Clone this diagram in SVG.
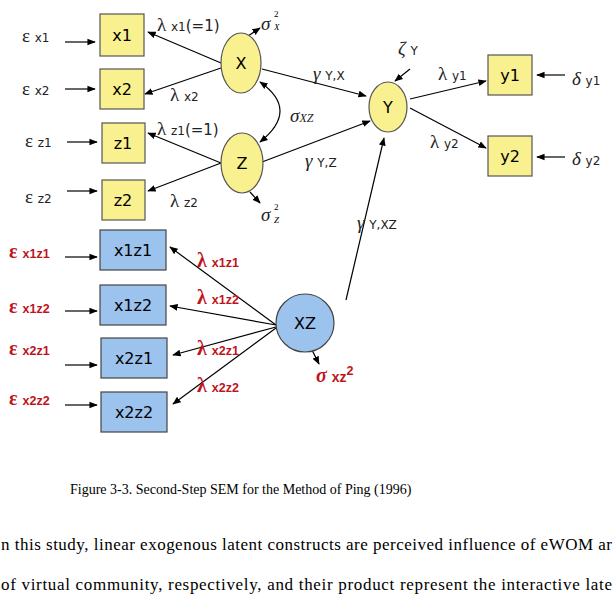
<svg xmlns="http://www.w3.org/2000/svg" width="614" height="595" viewBox="0 0 614 595">
<defs>
<marker id="a" viewBox="0 0 10 10" refX="9" refY="5" markerWidth="7" markerHeight="7" orient="auto-start-reverse"><path d="M0,1 L10,5 L0,9 z" fill="#000"/></marker>
<style>
.l{stroke:#000;stroke-width:1.2;fill:none;marker-end:url(#a)}
.y{fill:#f9f08f;stroke:#555;stroke-width:1.2}
.b{fill:#9cc2ee;stroke:#444;stroke-width:1.2}
.t{font-family:"DejaVu Sans",sans-serif;font-size:16px;fill:#000;text-anchor:middle}
.g{font-family:"Liberation Serif",serif;font-size:19px;fill:#222}
.s{font-family:"DejaVu Sans",sans-serif;font-size:12px}
.r{font-family:"Liberation Serif",serif;font-size:20px;fill:#c0141c;font-weight:bold}
.rs{font-family:"Liberation Sans",sans-serif;font-size:12.5px;font-weight:bold}
.c{font-family:"Liberation Serif",serif;fill:#000}
</style>
</defs>
<rect width="614" height="595" fill="#fff"/>
<g id="connectors">
<line class="l" x1="65" y1="42" x2="95" y2="42"/>
<line class="l" x1="65" y1="89" x2="95" y2="89"/>
<line class="l" x1="67" y1="142" x2="97" y2="142"/>
<line class="l" x1="67" y1="191" x2="97" y2="191"/>
<line class="l" x1="221" y1="63" x2="148" y2="32"/>
<line class="l" x1="221" y1="68" x2="145" y2="94"/>
<line class="l" x1="221" y1="163" x2="148" y2="133"/>
<line class="l" x1="221" y1="163" x2="148" y2="191"/>
<line class="l" x1="248" y1="36" x2="260" y2="28"/>
<line class="l" x1="250" y1="192" x2="260" y2="203"/>
<path class="l" d="M260,82 Q300,110 260,142" style="marker-start:url(#a)"/>
<line class="l" x1="262" y1="69" x2="366" y2="96"/>
<line class="l" x1="262" y1="162" x2="370" y2="121"/>
<line class="l" x1="346" y1="300" x2="384" y2="138"/>
<line class="l" x1="410" y1="69" x2="395" y2="81"/>
<line class="l" x1="410" y1="99" x2="486" y2="81"/>
<line class="l" x1="410" y1="108" x2="486" y2="148"/>
<line class="l" x1="565" y1="75" x2="537" y2="75"/>
<line class="l" x1="565" y1="157" x2="537" y2="157"/>
<line class="l" x1="65" y1="257" x2="97" y2="257"/>
<line class="l" x1="65" y1="311" x2="97" y2="311"/>
<line class="l" x1="65" y1="365" x2="97" y2="365"/>
<line class="l" x1="65" y1="405" x2="97" y2="405"/>
<line class="l" x1="276" y1="325" x2="170" y2="247"/>
<line class="l" x1="276" y1="325" x2="170" y2="306"/>
<line class="l" x1="276" y1="327" x2="173" y2="355"/>
<line class="l" x1="276" y1="328" x2="173" y2="404"/>
<line class="l" x1="312" y1="350" x2="319" y2="364"/>
</g>
<g id="x1"><rect class="y" x="100" y="14" width="44" height="42"/><text class="t" x="122" y="41">x1</text></g>
<g id="x2"><rect class="y" x="100" y="69" width="44" height="40"/><text class="t" x="122" y="95">x2</text></g>
<g id="z1"><rect class="y" x="102" y="123" width="43" height="40"/><text class="t" x="123" y="149">z1</text></g>
<g id="z2"><rect class="y" x="102" y="180" width="43" height="40"/><text class="t" x="123" y="206">z2</text></g>
<g id="X"><ellipse class="y" cx="241" cy="63" rx="20" ry="30"/><text class="t" x="241" y="69">X</text></g>
<g id="Z"><ellipse class="y" cx="242" cy="163" rx="21" ry="30"/><text class="t" x="242" y="169">Z</text></g>
<g id="Y"><ellipse class="y" cx="388" cy="107" rx="19" ry="25"/><text class="t" x="388" y="113">Y</text></g>
<g id="y1"><rect class="y" x="488" y="55" width="44" height="40"/><text class="t" x="510" y="81">y1</text></g>
<g id="y2"><rect class="y" x="488" y="136" width="44" height="40"/><text class="t" x="510" y="162">y2</text></g>
<g id="x1z1"><rect class="b" x="100" y="230" width="66" height="40"/><text class="t" x="133" y="256">x1z1</text></g>
<g id="x1z2"><rect class="b" x="100" y="285" width="66" height="40"/><text class="t" x="133" y="311">x1z2</text></g>
<g id="x2z1"><rect class="b" x="101" y="338" width="66" height="40"/><text class="t" x="134" y="364">x2z1</text></g>
<g id="x2z2"><rect class="b" x="101" y="392" width="66" height="40"/><text class="t" x="134" y="418">x2z2</text></g>
<g id="XZ"><circle class="b" cx="305" cy="323" r="29"/><text class="t" x="305" y="329">XZ</text></g>
<g id="labels">
<text class="g" x="22" y="42">ε <tspan class="s">x1</tspan></text>
<text class="g" x="22" y="95">ε <tspan class="s">x2</tspan></text>
<text class="g" x="25" y="147">ε <tspan class="s">z1</tspan></text>
<text class="g" x="25" y="203">ε <tspan class="s">z2</tspan></text>
<text class="g" x="157" y="31">λ <tspan class="s">x1</tspan><tspan font-family="DejaVu Sans" font-size="15">(=1)</tspan></text>
<text class="g" x="170" y="101">λ <tspan class="s">x2</tspan></text>
<text class="g" x="157" y="135">λ <tspan class="s">z1</tspan><tspan font-family="DejaVu Sans" font-size="15">(=1)</tspan></text>
<text class="g" x="170" y="207">λ <tspan class="s">z2</tspan></text>
<text class="g" x="261" y="30" font-style="italic">σ</text><text x="274" y="17" font-family="Liberation Serif" font-size="9">2</text><text x="274" y="30" font-family="Liberation Serif" font-size="9" font-style="italic">X</text>
<text class="g" x="261" y="221" font-style="italic">σ</text><text x="274" y="210" font-family="Liberation Serif" font-size="9">2</text><text x="274" y="223" font-family="Liberation Serif" font-size="9" font-style="italic">Z</text>
<text class="g" x="290" y="122" font-style="italic">σ<tspan font-size="12">XZ</tspan></text>
<text class="g" x="313" y="80" font-style="italic">γ <tspan class="s" font-style="normal">Y,X</tspan></text>
<text class="g" x="305" y="167" font-style="italic">γ <tspan class="s" font-style="normal">Y,Z</tspan></text>
<text class="g" x="357" y="229" font-style="italic">γ <tspan class="s" font-style="normal">Y,XZ</tspan></text>
<text class="g" x="398" y="55" font-style="italic">ζ <tspan class="s" font-style="normal">Y</tspan></text>
<text class="g" x="438" y="80">λ <tspan class="s">y1</tspan></text>
<text class="g" x="430" y="148">λ <tspan class="s">y2</tspan></text>
<text class="g" x="572" y="85" font-style="italic">δ <tspan class="s" font-style="normal">y1</tspan></text>
<text class="g" x="572" y="165" font-style="italic">δ <tspan class="s" font-style="normal">y2</tspan></text>
<text class="r" x="9" y="258">ε <tspan class="rs">x1z1</tspan></text>
<text class="r" x="9" y="313">ε <tspan class="rs">x1z2</tspan></text>
<text class="r" x="9" y="355">ε <tspan class="rs">x2z1</tspan></text>
<text class="r" x="9" y="405">ε <tspan class="rs">x2z2</tspan></text>
<text class="r" x="197" y="267">λ <tspan class="rs">x1z1</tspan></text>
<text class="r" x="197" y="304">λ <tspan class="rs">x1z2</tspan></text>
<text class="r" x="197" y="355">λ <tspan class="rs">x2z1</tspan></text>
<text class="r" x="197" y="392">λ <tspan class="rs">x2z2</tspan></text>
<text class="r" x="316" y="382" font-style="italic">σ <tspan class="rs" font-style="normal" style="font-size:14px">xz</tspan><tspan class="rs" font-style="normal" dy="-7">2</tspan></text>
</g>
<text class="c" x="70" y="494" style="font-size:14px">Figure 3-3. Second-Step SEM for the Method of Ping (1996)</text>
<text class="c" x="1" y="550" style="font-size:17px" textLength="611">n this study, linear exogenous latent constructs are perceived influence of eWOM ar</text>
<text class="c" x="1" y="590" style="font-size:17px" textLength="611">of virtual community, respectively, and their product represent the interactive late</text>
</svg>
